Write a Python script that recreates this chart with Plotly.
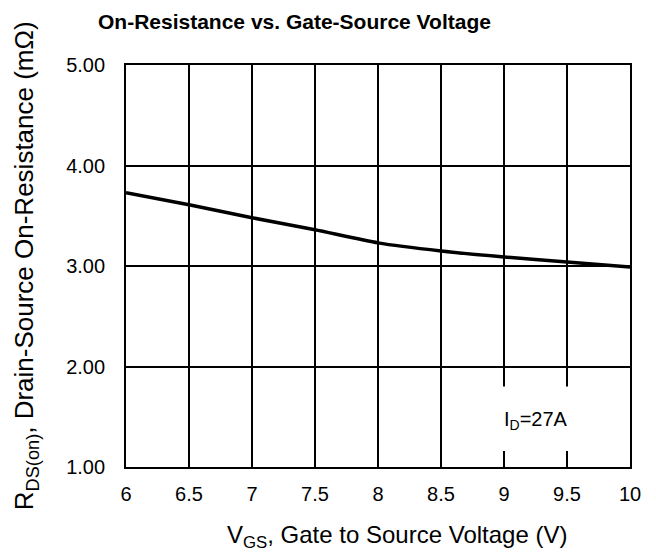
import plotly.graph_objects as go

vgs = [6.0, 6.5, 7.0, 7.5, 8.0, 8.5, 9.0, 9.5, 10.0]
rds = [3.73, 3.61, 3.48, 3.36, 3.23, 3.15, 3.09, 3.04, 2.99]

x_ticks = [6, 6.5, 7, 7.5, 8, 8.5, 9, 9.5, 10]
x_tick_labels = ["6", "6.5", "7", "7.5", "8", "8.5", "9", "9.5", "10"]
y_ticks = [1, 2, 3, 4, 5]
y_tick_labels = ["1.00", "2.00", "3.00", "4.00", "5.00"]

FONT = "Liberation Sans, Arial, sans-serif"

fig = go.Figure()
fig.add_trace(go.Scatter(x=vgs, y=rds, mode="lines",
                         line=dict(color="black", width=3.5, shape="spline", smoothing=0.6),
                         showlegend=False, cliponaxis=False))

fig.add_shape(type="rect", x0=8.55, x1=9.95, y0=1.16, y1=1.80,
              fillcolor="white", line=dict(width=0), layer="above")
fig.add_annotation(x=9.25, y=1.46, text="I<sub>D</sub>=27A", showarrow=False,
                   font=dict(family=FONT, size=20, color="black"))

# titles as annotations (paper coords)
fig.add_annotation(xref="paper", yref="paper", x=0.335, y=1.107, xanchor="center", yanchor="middle",
                   text="<b>On-Resistance vs. Gate-Source Voltage</b>", showarrow=False,
                   font=dict(family=FONT, size=21, color="black"))
fig.add_annotation(xref="paper", yref="paper", x=0.5377, y=-0.174, xanchor="center", yanchor="middle",
                   text="V<sub>GS</sub>, Gate to Source Voltage (V)", showarrow=False,
                   font=dict(family=FONT, size=24, color="black"))
fig.add_annotation(xref="paper", yref="paper", x=-0.2, y=0.5, xanchor="center", yanchor="middle",
                   text="R<sub>DS(on)</sub>, Drain-Source On-Resistance (mΩ)", showarrow=False,
                   textangle=-90,
                   font=dict(family=FONT, size=26, color="black"))

fig.update_layout(
    width=648, height=546,
    margin=dict(l=118, r=26, t=57, b=87),
    paper_bgcolor="white", plot_bgcolor="white",
    font=dict(family=FONT, color="black"),
)
fig.update_xaxes(range=[6, 10], tickvals=x_ticks, ticktext=x_tick_labels,
                 showgrid=True, gridcolor="black", gridwidth=1.8,
                 showline=True, linecolor="black", linewidth=1.8, mirror=True,
                 ticks="outside", ticklen=0, tickfont=dict(size=20),
                 ticklabelstandoff=8, zeroline=False)
fig.update_yaxes(range=[1, 5], tickvals=y_ticks, ticktext=y_tick_labels,
                 showgrid=True, gridcolor="black", gridwidth=1.8,
                 showline=True, linecolor="black", linewidth=1.8, mirror=True,
                 ticks="outside", ticklen=0, tickfont=dict(size=20),
                 ticklabelstandoff=15, zeroline=False)

fig.write_html("out.html")
